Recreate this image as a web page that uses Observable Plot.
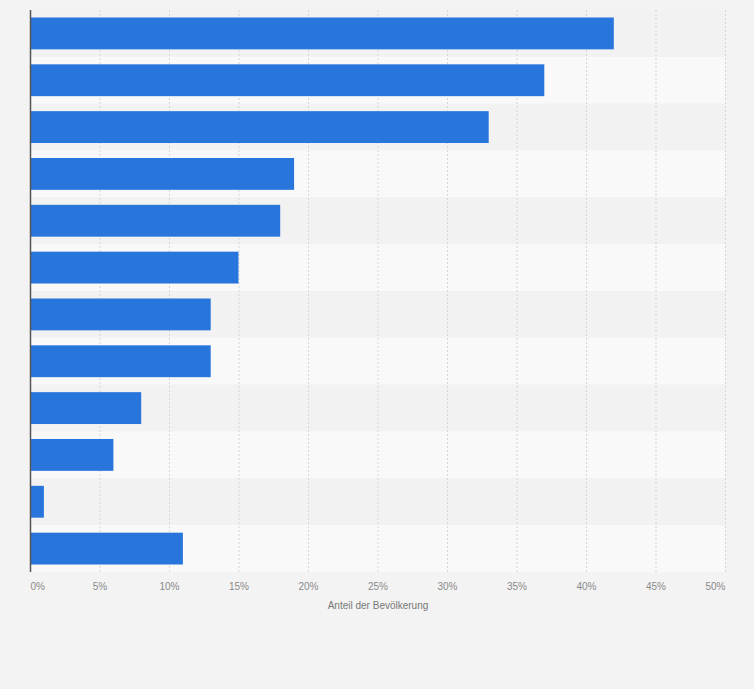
<!DOCTYPE html>
<html>
<head>
<meta charset="utf-8">
<script src="https://cdn.jsdelivr.net/npm/d3@7"></script>
<script src="https://cdn.jsdelivr.net/npm/@observablehq/plot@0.6"></script>
<style>
  html, body { margin: 0; padding: 0; background: #f3f3f3; }
</style>
</head>
<body>
<div id="chart"></div>
<script>
const categories = ["Kategorie 1", "Kategorie 2", "Kategorie 3", "Kategorie 4", "Kategorie 5", "Kategorie 6",
                    "Kategorie 7", "Kategorie 8", "Kategorie 9", "Kategorie 10", "Kategorie 11", "Kategorie 12"];
const values = [42, 37, 33, 19, 18, 15, 13, 13, 8, 6, 1, 11];
const xTicks = [0, 5, 10, 15, 20, 25, 30, 35, 40, 45, 50];
const axisTitle = "Anteil der Bevölkerung";

const data = categories.map((c, i) => ({category: c, value: values[i], index: i}));

const height = 689, marginTop = 10, marginBottom = 117;
const step = (height - marginTop - marginBottom) / categories.length;
const pad = 0.32;
const stripeInset = -step * pad / 2;

const tickStyle = {tickSize: 0, tickPadding: 10, tickFormat: d => d + "%", fill: "#8a8a8a", label: null, fontSize: 10};

const chart = Plot.plot({
  width: 754,
  height,
  marginLeft: 30,
  marginRight: 29,
  marginTop,
  marginBottom,
  style: {background: "#f3f3f3", fontFamily: "'Liberation Sans', Arial, sans-serif", fontSize: "10px"},
  x: {domain: [0, 50], label: null},
  y: {domain: categories, paddingInner: pad, paddingOuter: pad / 2, round: false, axis: null},
  marks: [
    Plot.barX(data, {y: "category", x1: 0, x2: 50, fill: d => d.index % 2 ? "#f9f9f9" : "#f2f2f2",
                     insetTop: stripeInset, insetBottom: stripeInset}),
    Plot.ruleX(xTicks.filter(t => t > 0), {stroke: "#d6d6d6", strokeDasharray: "2,2", strokeWidth: 1}),
    Plot.barX(data, {y: "category", x: "value", fill: "#2876dc"}),
    Plot.ruleX([0], {stroke: "#555", strokeWidth: 1.5}),
    Plot.axisX({ticks: xTicks.slice(1, -1), ...tickStyle}),
    Plot.axisX({ticks: [xTicks[0]], textAnchor: "start", ...tickStyle}),
    Plot.axisX({ticks: [xTicks[xTicks.length - 1]], textAnchor: "end", ...tickStyle}),
    Plot.text([axisTitle], {frameAnchor: "bottom", dy: 33, fill: "#777", fontSize: 10, lineAnchor: "middle"})
  ]
});
document.getElementById("chart").appendChild(chart);
</script>
</body>
</html>
